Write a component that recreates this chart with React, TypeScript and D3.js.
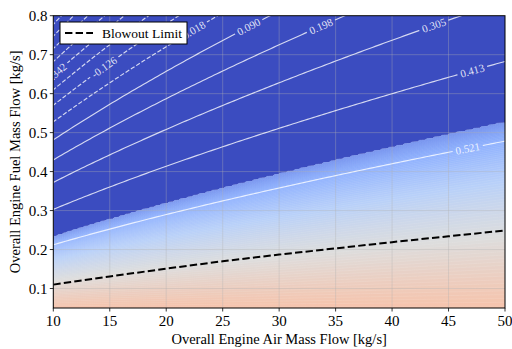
import * as d3 from 'd3';
import { useMemo } from 'react';

// axis ticks
const xTicks = [10, 15, 20, 25, 30, 35, 40, 45, 50];
const yTicks = [0.1, 0.2, 0.3, 0.4, 0.5, 0.6, 0.7, 0.8];

// contour line levels (white lines) and which ones carry a label
const lineLevels = [-0.880, -0.772, -0.665, -0.557, -0.449, -0.342, -0.234, -0.126, -0.018, 0.090, 0.198, 0.305, 0.413, 0.521];
const labelLevels = [-0.342, -0.126, -0.018, 0.090, 0.198, 0.305, 0.413, 0.521];
const labelAir = [10.1, 14.5, 22.3, 27.3, 33.7, 43.7, 47.1, 46.7];

// blowout limit curve
const blowoutAir = [10, 15, 20, 25, 30, 35, 40, 45, 50];
const blowoutFuel = [0.110, 0.131, 0.151, 0.170, 0.187, 0.203, 0.219, 0.234, 0.249];

// field: level = fieldTop - fieldSlope * fuel^2 / (air + airShift)^(4/3)
const fieldTop = 0.625;
const fieldSlope = 99.35;
const airShift = 6.8;
// edge of the shaded band: fuel = bandEdge * (air + airShift)^(2/3)
const bandEdge = 0.0358;
const bandRange = [0.12, 0.63]; // colormap position at the edge / at the bottom

const coolwarmStops = ['#3b4cc0', '#6282ea', '#8db0fe', '#b8d0f9', '#dddddd', '#f5c4ad', '#f49a7b', '#de604d', '#b40426'];

const W = 512;
const H = 349;
const left = 53.3, right = 505, top = 15.7, bottom = 308;

const serif = 'Liberation Serif, Times New Roman, serif';

const App = () => {
  const x = d3.scaleLinear().domain([10, 50]).range([left, right]);
  const y = d3.scaleLinear().domain([0.05, 0.8]).range([bottom, top]);
  const coolwarm = d3.scaleLinear<string>()
    .domain(coolwarmStops.map((_, i) => i / (coolwarmStops.length - 1)))
    .range(coolwarmStops)
    .interpolate(d3.interpolateRgb);

  const bands = useMemo(() => {
    const nx = 240, ny = 170;
    const vals = new Array(nx * ny);
    for (let j = 0; j < ny; j++) {
      const fy = y.invert(top + ((j + 0.5) / ny) * (bottom - top));
      for (let i = 0; i < nx; i++) {
        const fx = x.invert(left + ((i + 0.5) / nx) * (right - left));
        const yb = bandEdge * Math.pow(fx + airShift, 2 / 3);
        let t = 0;
        if (fy < yb) {
          const s = Math.min(1, (yb - fy) / (yb - 0.05));
          t = bandRange[0] + (bandRange[1] - bandRange[0]) * Math.pow(s, 0.61);
        }
        vals[i + j * nx] = t;
      }
    }
    const thresholds = d3.range(bandRange[0], bandRange[1], 0.0065);
    const proj = d3.geoTransform({
      point(px: number, py: number) {
        (this as any).stream.point(left + (px / nx) * (right - left), top + (py / ny) * (bottom - top));
      },
    });
    const path = d3.geoPath(proj);
    return d3.contours().size([nx, ny]).thresholds(thresholds)(vals).map(c => ({
      d: path(c as any) || '',
      color: coolwarm(c.value + 0.003),
    }));
  }, []);

  const levelY = (level: number, air: number) =>
    Math.sqrt((fieldTop - level) / fieldSlope) * Math.pow(air + airShift, 2 / 3);
  const airSamples = d3.range(9.5, 50.6, 0.25);
  const line = d3.line<[number, number]>().x(d => x(d[0])).y(d => y(d[1]));

  const labels = labelLevels.map((lv, i) => {
    const a = labelAir[i];
    const px = x(a), py = y(levelY(lv, a));
    const px2 = x(a + 0.05), py2 = y(levelY(lv, a + 0.05));
    const angle = (Math.atan2(py2 - py, px2 - px) * 180) / Math.PI;
    const text = lv.toFixed(3);
    const w = text.split('').reduce((s, ch) => s + (ch === '.' ? 0.25 : ch === '-' ? 0.333 : 0.5), 0) * 11 + 6;
    return { px, py, angle, text, w };
  });

  const blowout = d3.line<number>().x((_, i) => x(blowoutAir[i])).y(d => y(d));

  return (
    <div style={{ position: 'absolute', left: 0, top: 0 }}>
      <svg width={W} height={H} style={{ display: 'block' }} fontFamily={serif}>
        <defs>
          <clipPath id="plot">
            <rect x={left} y={top} width={right - left} height={bottom - top} />
          </clipPath>
          <mask id="lblmask" maskUnits="userSpaceOnUse" x={0} y={0} width={W} height={H}>
            <rect x={0} y={0} width={W} height={H} fill="#fff" />
            {labels.map((l, i) => (
              <rect key={i} x={-l.w / 2} y={-5} width={l.w} height={10} fill="#000"
                transform={`translate(${l.px},${l.py}) rotate(${l.angle})`} />
            ))}
          </mask>
        </defs>
        <rect x={0} y={0} width={W} height={H} fill="#fff" />
        <g clipPath="url(#plot)">
          <rect x={left} y={top} width={right - left} height={bottom - top} fill={coolwarmStops[0]} />
          {bands.map((b, i) => (
            <path key={i} d={b.d} fill={b.color} stroke="#ffffff" strokeOpacity={0.2} strokeWidth={0.5} />
          ))}
          {/* grid */}
          {xTicks.slice(1, -1).map(t => (
            <line key={'gx' + t} x1={x(t)} x2={x(t)} y1={top} y2={bottom} stroke="#b0b0b0" strokeOpacity={0.45} strokeWidth={0.8} />
          ))}
          {yTicks.slice(0, -1).map(t => (
            <line key={'gy' + t} x1={left} x2={right} y1={y(t)} y2={y(t)} stroke="#b0b0b0" strokeOpacity={0.45} strokeWidth={0.8} />
          ))}
          {/* contour lines */}
          <g mask="url(#lblmask)">
            {lineLevels.map(lv => (
              <path key={lv} d={line(airSamples.map(a => [a, levelY(lv, a)] as [number, number])) || ''}
                fill="none" stroke="#ffffff" strokeOpacity={0.78} strokeWidth={1.15}
                strokeDasharray={lv < 0 ? '4.4 1.9' : undefined} />
            ))}
          </g>
          {labels.map((l, i) => (
            <text key={i} transform={`translate(${l.px},${l.py}) rotate(${l.angle})`} textAnchor="middle" dy="0.35em"
              fontFamily={serif} fontSize={11} fill="#ffffff" fillOpacity={0.85}>{l.text}</text>
          ))}
          {/* blowout limit */}
          <path d={blowout(blowoutFuel) || ''} fill="none" stroke="#000" strokeWidth={2} strokeDasharray="7.4 3.2" />
        </g>
        {/* legend */}
        <rect x={60} y={22} width={127} height={22} fill="#fff" stroke="#000" strokeWidth={1} />
        <line x1={65} x2={93} y1={33} y2={33} stroke="#000" strokeWidth={2} strokeDasharray="7.4 3.2" />
        <text x={102} y={33} dy="0.35em" fontFamily={serif} fontSize={13.5}>Blowout Limit</text>
        {/* frame */}
        <rect x={left} y={top} width={right - left} height={bottom - top} fill="none" stroke="#000" strokeWidth={1} />
        {/* axes */}
        {xTicks.map(t => (
          <g key={'xt' + t}>
            <line x1={x(t)} x2={x(t)} y1={bottom} y2={bottom + 3.5} stroke="#000" strokeWidth={0.8} />
            <text x={x(t)} y={326} textAnchor="middle" fontFamily={serif} fontSize={15}>{t}</text>
          </g>
        ))}
        {yTicks.map(t => (
          <g key={'yt' + t}>
            <line x1={left - 3.5} x2={left} y1={y(t)} y2={y(t)} stroke="#000" strokeWidth={0.8} />
            <text x={47.5} y={y(t)} dy="0.35em" textAnchor="end" fontFamily={serif} fontSize={15}>{t.toFixed(1)}</text>
          </g>
        ))}
        <text x={(left + right) / 2} y={344} textAnchor="middle" fontFamily={serif} fontSize={14.5}>Overall Engine Air Mass Flow [kg/s]</text>
        <text transform={`translate(19.5,${(top + bottom) / 2}) rotate(-90)`} textAnchor="middle" fontFamily={serif} fontSize={14.5}>
          Overall Engine Fuel Mass Flow [kg/s]
        </text>
      </svg>
    </div>
  );
};

export default App;
